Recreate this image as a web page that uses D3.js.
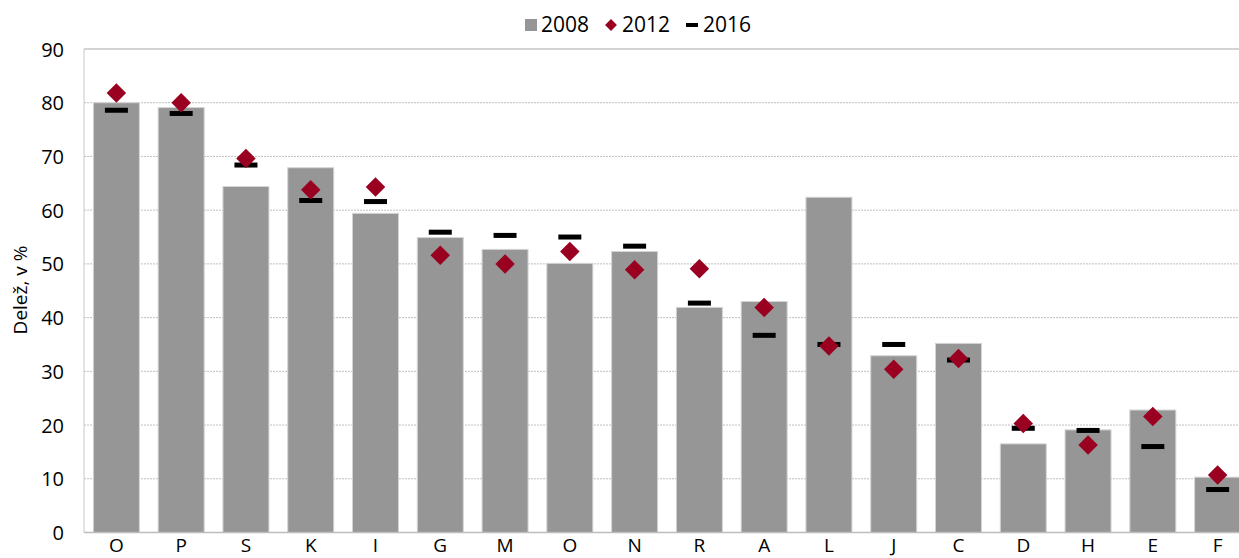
<!DOCTYPE html>
<html>
<head>
<meta charset="utf-8">
<script src="https://cdn.jsdelivr.net/npm/d3@7"></script>
<style>
  body { margin: 0; background: #fff; }
  text { font-family: "Open Sans", sans-serif; fill: #000; }
</style>
</head>
<body>
<svg id="chart" width="1239" height="558"></svg>
<script>
// categories and series (shares in %)
var categories = ['O', 'P', 'S', 'K', 'I', 'G', 'M', 'O ', 'N', 'R', 'A', 'L', 'J', 'C', 'D', 'H', 'E', 'F'];
var values2008 = [80.0, 79.1, 64.4, 67.9, 59.4, 54.9, 52.7, 50.1, 52.3, 41.9, 43.0, 62.4, 32.9, 35.2, 16.5, 19.1, 22.8, 10.3];
var values2012 = [81.8, 80.0, 69.6, 63.8, 64.3, 51.6, 50.0, 52.3, 48.9, 49.1, 41.9, 34.7, 30.4, 32.4, 20.3, 16.3, 21.6, 10.7];
var values2016 = [78.6, 78.0, 68.4, 61.8, 61.6, 55.9, 55.3, 55.0, 53.3, 42.7, 36.7, 35.0, 35.0, 32.1, 19.4, 19.0, 16.0, 8.0];
var yTicks = [0, 10, 20, 30, 40, 50, 60, 70, 80, 90];
var seriesNames = ['2008', '2012', '2016'];

var svg = d3.select('#chart');
var plotLeft = 84, plotRight = 1250, plotTop = 49, plotBottom = 532.5;

var x = d3.scaleBand()
  .domain(categories)
  .range([plotLeft, plotRight])
  .paddingInner(0.29)
  .paddingOuter(0.145);

var y = d3.scaleLinear().domain([0, 90]).range([plotBottom, plotTop]);

// gridlines
svg.append('g')
  .selectAll('line')
  .data(yTicks.filter(function(d) { return d > 0 && d < 90; }))
  .enter().append('line')
  .attr('x1', plotLeft).attr('x2', plotRight)
  .attr('y1', function(d) { return y(d); })
  .attr('y2', function(d) { return y(d); })
  .attr('stroke', '#bfbfbf')
  .attr('stroke-width', 1)
  .attr('stroke-dasharray', '2,1');

// plot frame (top + left)
svg.append('line').attr('x1', plotLeft).attr('x2', plotRight).attr('y1', y(90)).attr('y2', y(90))
  .attr('stroke', '#c4c4c4').attr('stroke-width', 1.5);
svg.append('line').attr('x1', plotLeft).attr('x2', plotLeft).attr('y1', y(90)).attr('y2', y(0))
  .attr('stroke', '#c8c8c8').attr('stroke-width', 1);

// bars 2008
svg.append('g')
  .selectAll('rect')
  .data(values2008)
  .enter().append('rect')
  .attr('x', function(d, i) { return x(categories[i]); })
  .attr('width', x.bandwidth())
  .attr('y', function(d) { return y(d); })
  .attr('height', function(d) { return y(0) - y(d); })
  .attr('fill', '#969696')
  .attr('stroke', '#d4d4d4')
  .attr('stroke-width', 1);

// bottom axis line
svg.append('line').attr('x1', plotLeft).attr('x2', plotRight).attr('y1', y(0)).attr('y2', y(0))
  .attr('stroke', '#bdbdbd').attr('stroke-width', 1.5);

// dashes 2016
var dashW = 23, dashH = 5;
svg.append('g')
  .selectAll('rect')
  .data(values2016)
  .enter().append('rect')
  .attr('x', function(d, i) { return x(categories[i]) + x.bandwidth() / 2 - dashW / 2; })
  .attr('width', dashW)
  .attr('y', function(d) { return y(d) - dashH / 2; })
  .attr('height', dashH)
  .attr('fill', '#000');

// diamonds 2012
var diamond = d3.symbol().type(d3.symbolSquare).size(190);
svg.append('g')
  .selectAll('path')
  .data(values2012)
  .enter().append('path')
  .attr('d', diamond)
  .attr('transform', function(d, i) {
    return 'translate(' + (x(categories[i]) + x.bandwidth() / 2) + ',' + y(d) + ') rotate(45)';
  })
  .attr('fill', '#9a0020');

// y axis
var yAxis = d3.axisLeft(y).tickValues(yTicks).tickSize(0).tickPadding(20);
var gy = svg.append('g').attr('transform', 'translate(' + plotLeft + ',0)').call(yAxis);
gy.select('.domain').remove();
gy.selectAll('text').style('font-size', '20px').style('font-family', '"Open Sans", sans-serif').attr('dy', '0.35em');

// x axis - labels kept just inside the bottom edge
var xAxis = d3.axisBottom(x).tickSize(0).tickPadding(0);
var gx = svg.append('g').attr('transform', 'translate(0,' + y(0) + ')').call(xAxis);
gx.select('.domain').remove();
gx.selectAll('text')
  .style('font-size', '19px')
  .style('font-family', '"Open Sans", sans-serif')
  .attr('y', 0)
  .attr('dy', null)
  .attr('transform', 'translate(0,19.5)');

// y title
svg.append('text')
  .attr('transform', 'translate(27,290) rotate(-90)')
  .attr('text-anchor', 'middle')
  .style('font-size', '19px')
  .text('Delež, v %');

// legend
var lg = svg.append('g');
lg.append('rect').attr('x', 525).attr('y', 19).attr('width', 12).attr('height', 12).attr('fill', '#969696');
lg.append('text').attr('x', 541).attr('y', 32).style('font-size', '21px').text(seriesNames[0]);
lg.append('path').attr('d', d3.symbol().type(d3.symbolSquare).size(70))
  .attr('transform', 'translate(611,25) rotate(45)').attr('fill', '#9a0020');
lg.append('text').attr('x', 622).attr('y', 32).style('font-size', '21px').text(seriesNames[1]);
lg.append('rect').attr('x', 686).attr('y', 23).attr('width', 12).attr('height', 4).attr('fill', '#000');
lg.append('text').attr('x', 703).attr('y', 32).style('font-size', '21px').text(seriesNames[2]);
</script>
</body>
</html>
